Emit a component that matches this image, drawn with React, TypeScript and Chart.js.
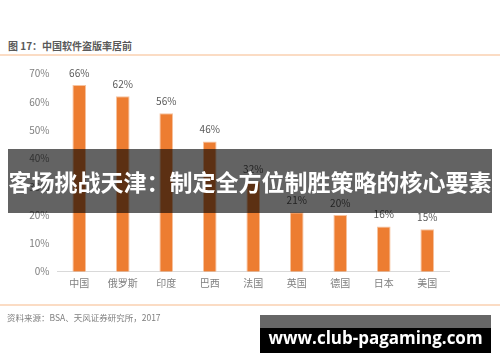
import React, { useEffect, useRef } from 'react';
import { Chart, registerables } from 'chart.js';

Chart.register(...registerables);

const categories = ['中国', '俄罗斯', '印度', '巴西', '法国', '英国', '德国', '日本', '美国'];
const piracyRates = [66, 62, 56, 46, 32, 21, 20, 16, 15];
const yMin = 0;
const yMax = 70;
const yStep = 10;
const titleText = '图 17：中国软件盗版率居前';
const sourceText = '资料来源：BSA、天风证券研究所，2017';
const bannerText = '客场挑战天津：制定全方位制胜策略的核心要素';
const watermarkText = 'www.club-pagaming.com';

const FONT = "'Noto Sans CJK SC', 'Noto Sans', sans-serif";

const valueLabels = {
  id: 'valueLabels',
  afterDatasetsDraw(chart: any) {
    const { ctx } = chart;
    const meta = chart.getDatasetMeta(0);
    ctx.save();
    ctx.font = `10px ${FONT}`;
    ctx.fillStyle = '#595959';
    ctx.textAlign = 'center';
    ctx.textBaseline = 'middle';
    meta.data.forEach((bar: any, i: number) => {
      ctx.fillText(piracyRates[i] + '%', bar.x, bar.y - 12);
    });
    ctx.restore();
  },
};

export default function App() {
  const canvasRef = useRef<HTMLCanvasElement | null>(null);

  useEffect(() => {
    const canvas = canvasRef.current;
    if (!canvas) return;
    const chart = new Chart(canvas, {
      type: 'bar',
      data: {
        labels: categories,
        datasets: [
          {
            data: piracyRates,
            backgroundColor: '#ED7D31',
            borderColor: '#F6C3A0',
            borderWidth: 1,
            categoryPercentage: 1,
            barPercentage: 0.315,
          },
        ],
      },
      options: {
        responsive: false,
        animation: false,
        devicePixelRatio: 1,
        layout: { padding: { left: 0, right: 51, top: 73.6, bottom: 60.3 } },
        plugins: {
          legend: { display: false },
          title: { display: false },
          tooltip: { enabled: false },
        },
        scales: {
          x: {
            grid: { display: false, drawTicks: false },
            border: { display: true, color: '#d9d9d9', width: 1 },
            ticks: { color: '#7f7f7f', font: { size: 10, family: FONT }, padding: 6 },
            afterFit: (s: any) => {
              s.height = 30;
            },
          },
          y: {
            min: yMin,
            max: yMax,
            grid: { display: false, drawTicks: false },
            border: { display: false },
            ticks: {
              stepSize: yStep,
              color: '#7f7f7f',
              font: { size: 10, family: FONT },
              padding: 8,
              callback: (v: any) => v + '%',
            },
            afterFit: (s: any) => {
              s.width = 57.5;
            },
          },
        },
      },
      plugins: [valueLabels],
    });
    return () => chart.destroy();
  }, []);

  return (
    <div
      style={{
        position: 'absolute',
        left: 0,
        top: 0,
        width: 500,
        height: 362,
        overflow: 'hidden',
        background: '#ffffff',
        fontFamily: FONT,
      }}
    >
      <div
        style={{
          position: 'absolute',
          left: 8,
          top: 40,
          lineHeight: '12px',
          fontSize: 10,
          fontWeight: 700,
          color: '#595959',
          whiteSpace: 'nowrap',
        }}
      >
        {titleText}
      </div>
      <div style={{ position: 'absolute', left: 0, top: 54, width: 500, height: 2, background: '#FBDCC4' }} />
      <canvas
        ref={canvasRef}
        width={500}
        height={362}
        style={{ position: 'absolute', left: 0, top: 0, width: 500, height: 362 }}
      />
      <div style={{ position: 'absolute', left: 0, top: 304, width: 500, height: 2, background: '#FBDCC4' }} />
      <div
        style={{
          position: 'absolute',
          left: 7,
          top: 312,
          lineHeight: '10px',
          fontSize: 8.5,
          color: '#7f7f7f',
          whiteSpace: 'nowrap',
        }}
      >
        {sourceText}
      </div>
      <div
        style={{
          position: 'absolute',
          left: 8,
          top: 149,
          width: 484,
          height: 64,
          background: 'rgba(0,0,0,0.61)',
          color: '#ffffff',
          fontSize: 23,
          fontWeight: 700,
          display: 'flex',
          alignItems: 'center',
          justifyContent: 'center',
          whiteSpace: 'nowrap',
          letterSpacing: 0,
        }}
      >
        {bannerText}
      </div>
      <div style={{ position: 'absolute', left: 260, top: 315, width: 231, height: 13, background: '#666666' }} />
      <div
        style={{
          position: 'absolute',
          left: 260,
          top: 328,
          width: 231,
          height: 25,
          background: '#000000',
          color: '#ffffff',
          fontFamily: "'Open Sans', 'DejaVu Sans', sans-serif",
          fontWeight: 700,
          fontSize: 17,
          lineHeight: '19px',
          display: 'flex',
          alignItems: 'flex-start',
          justifyContent: 'center',
          whiteSpace: 'nowrap',
        }}
      >
        {watermarkText}
      </div>
    </div>
  );
}
